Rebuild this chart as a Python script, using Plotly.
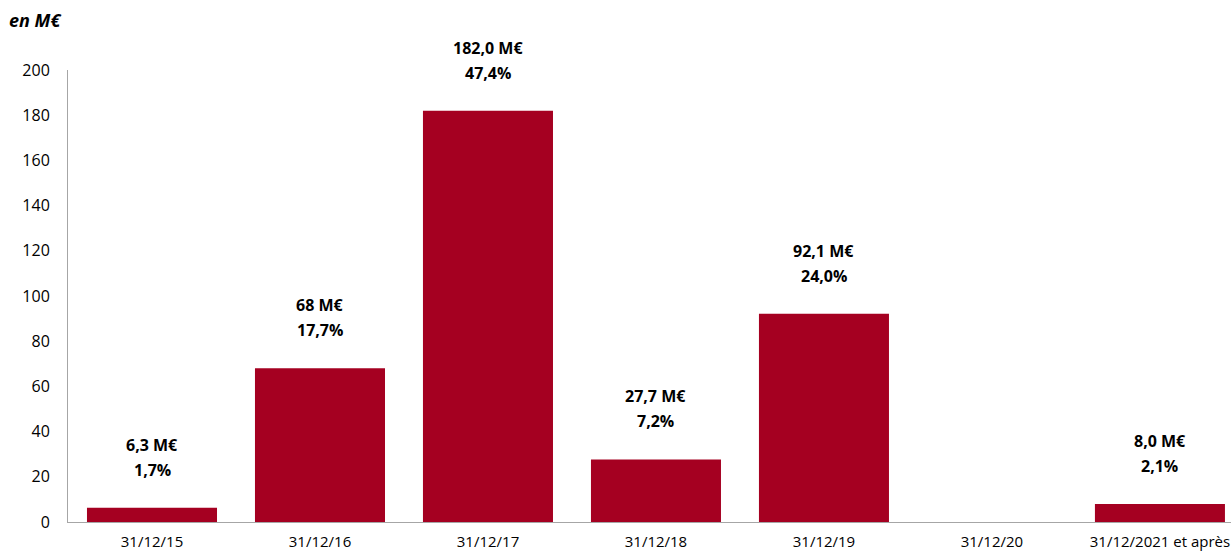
import plotly.graph_objects as go

categories = ["31/12/15", "31/12/16", "31/12/17", "31/12/18", "31/12/19", "31/12/20", "31/12/2021 et après"]
values = [6.3, 68, 182.0, 27.7, 92.1, 0, 8.0]
amount_labels = ["6,3 M€", "68 M€", "182,0 M€", "27,7 M€", "92,1 M€", "", "8,0 M€"]
pct_labels = ["1,7%", "17,7%", "47,4%", "7,2%", "24,0%", "", "2,1%"]
y_ticks = [0, 20, 40, 60, 80, 100, 120, 140, 160, 180, 200]

bar_color = "#A50021"
font_family = "Open Sans, Liberation Sans, sans-serif"

fig = go.Figure()
fig.add_trace(go.Bar(
    x=list(range(len(categories))),
    y=values,
    width=0.774,
    marker=dict(color=bar_color, line=dict(width=0)),
    hoverinfo="skip",
))

for i, (v, a, p) in enumerate(zip(values, amount_labels, pct_labels)):
    if not a:
        continue
    fig.add_annotation(
        x=i, y=v, xref="x", yref="y", text=f"<b>{a}</b>",
        showarrow=False, yanchor="middle", yshift=63,
        font=dict(family=font_family, size=16, color="#000000"),
    )
    fig.add_annotation(
        x=i, y=v, xref="x", yref="y", text=f"<b>{p}</b>",
        showarrow=False, yanchor="middle", yshift=38,
        font=dict(family=font_family, size=16, color="#000000"),
    )

fig.add_annotation(
    x=0, y=1, xref="paper", yref="paper", xshift=-61, yshift=50,
    xanchor="left", yanchor="middle",
    text="<b><i>en M€</i></b>", showarrow=False,
    font=dict(family=font_family, size=18, color="#000000"),
)

fig.update_layout(
    width=1231, height=553,
    margin=dict(l=68, r=0, t=70, b=31),
    paper_bgcolor="white", plot_bgcolor="white",
    showlegend=False,
    font=dict(family=font_family, size=16, color="#000000"),
)
fig.update_xaxes(
    tickmode="array", tickvals=list(range(len(categories))), ticktext=categories,
    range=[-0.5, 6.423], automargin=False, ticklabeloverflow="allow",
    showline=True, linecolor="#A6A6A6", linewidth=1,
    showgrid=False, zeroline=False, ticks="", ticklabelstandoff=6,
    tickfont=dict(family=font_family, size=15, color="#000000"),
)
fig.update_yaxes(
    range=[0, 200], tickmode="array", tickvals=y_ticks, automargin=False,
    showline=True, linecolor="#A6A6A6", linewidth=1,
    showgrid=False, zeroline=False, ticks="", ticklabelstandoff=14,
    tickfont=dict(family=font_family, size=16, color="#000000"),
)

fig.write_html("out.html", config={"displayModeBar": False},
               post_script="document.body.style.margin='0';")
